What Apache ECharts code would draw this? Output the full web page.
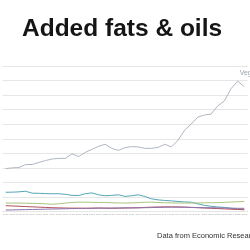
<!DOCTYPE html>
<html>
<head>
<meta charset="utf-8">
<script src="https://cdn.jsdelivr.net/npm/echarts@6/dist/echarts.min.js"></script>
<style>
  html, body { margin: 0; padding: 0; background: #fff; }
  #chart { width: 250px; height: 250px; }
</style>
</head>
<body>
<div id="chart"></div>
<script>
  // years along the bottom (labels are tiny in the source)
  var years = [];
  for (var y = 1970; y <= 2006; y++) years.push(String(y));

  var vegOils = [29.5, 30, 30.2, 32.3, 32.3, 33.7, 35, 36.1, 36.5, 36.5,
    39.6, 37.8, 40.6, 42.7, 44.8, 46.2, 43.4, 42, 43.9, 44.6,
    44.4, 43.4, 43.4, 44.1, 46.2, 44.4, 49, 55.9, 60.1, 64.9,
    66.3, 67, 72.6, 76, 84.4, 89.6, 85.8];
  var teal = [13.2, 13.3, 13.5, 13.9, 12.6, 12.5, 12.3, 12.2, 12.2, 11.8,
    11.1, 11, 12.2, 12.8, 11.5, 10.8, 11.1, 11.5, 10.4, 10.8,
    11.5, 10.3, 8.7, 8, 7.6, 7.3, 6.9, 6.6, 6.4, 5.2,
    4.2, 3.6, 3.1, 2.8, 2.2, 1.7, 1.5];
  var green = [5.8, 5.8, 5.8, 5.7, 5.6, 5.5, 5.3, 5.0, 5.3, 5.8,
    6.2, 6.4, 6.4, 6.3, 6.2, 6.2, 6.0, 5.9, 5.8, 5.9,
    6.1, 6.4, 6.4, 6.2, 6.0, 5.9, 5.8, 5.8, 5.8, 5.9,
    6.0, 6.0, 6.1, 6.3, 6.5, 6.7, 6.9];
  var red = [4.0, 3.8, 3.6, 3.4, 3.2, 3.0, 2.8, 2.6, 2.5, 2.4,
    2.3, 2.3, 2.2, 2.3, 2.4, 2.3, 2.2, 2.3, 2.4, 2.5,
    2.6, 2.8, 3.0, 3.1, 3.2, 3.2, 3.1, 3.0, 2.8, 2.6,
    2.4, 2.2, 2.0, 1.8, 1.6, 1.4, 1.2];
  var purple = [1.0, 1.1, 1.2, 1.3, 1.4, 1.5, 1.6, 1.7, 1.8, 1.9,
    2.0, 2.1, 2.2, 2.2, 2.3, 2.3, 2.4, 2.4, 2.5, 2.5,
    2.5, 2.6, 2.7, 2.8, 2.9, 3.0, 3.0, 2.9, 2.8, 2.7,
    2.6, 2.6, 2.5, 2.4, 2.3, 2.2, 2.2];
  var peakIdx = 35;

  var chart = echarts.init(document.getElementById('chart'), null, { renderer: 'canvas' });

  function lineSeries(name, data, color) {
    return {
      name: name,
      type: 'line',
      data: data,
      showSymbol: false,
      symbol: 'none',
      lineStyle: { color: color, width: 1 },
      animation: false
    };
  }

  var vegSeries = lineSeries('Vegetable oils', vegOils, '#b0b6c2');
  // name tag sitting just above the peak
  vegSeries.markPoint = {
    symbol: 'circle',
    symbolSize: 0,
    animation: false,
    data: [{ coord: [years[peakIdx], vegOils[peakIdx]] }],
    label: {
      show: true,
      position: [2, -12],
      align: 'left',
      formatter: 'Vegetable oils',
      color: '#9ba1ab',
      fontSize: 7,
      fontFamily: 'Liberation Sans'
    }
  };

  var option = {
    backgroundColor: '#fff',
    title: {
      text: 'Added fats & oils',
      left: 17,
      top: 12,
      textStyle: {
        fontFamily: 'Liberation Sans',
        fontWeight: 'bold',
        fontSize: 24.5,
        color: '#151515'
      }
    },
    grid: { left: 0, right: 0, top: 66, bottom: 38.5, containLabel: false },
    xAxis: {
      type: 'category',
      data: years,
      boundaryGap: true,
      axisLine: { show: true, lineStyle: { color: '#e6e6e6' } },
      axisTick: { show: false },
      axisLabel: { interval: 0, fontSize: 2.5, margin: 1, color: '#9a9a9a' }
    },
    yAxis: {
      type: 'value',
      min: 0,
      max: 100,
      interval: 10,
      axisLabel: { show: false },
      axisLine: { show: false },
      axisTick: { show: false },
      splitLine: { lineStyle: { color: '#e6e6e6', width: 1 } }
    },
    series: [
      vegSeries,
      lineSeries('Teal', teal, '#55a6b6'),
      lineSeries('Green', green, '#a9c47f'),
      lineSeries('Red', red, '#b0505a'),
      lineSeries('Purple', purple, '#8f73ad')
    ],
    graphic: [{
      type: 'text',
      left: 157,
      top: 232,
      style: {
        text: 'Data from Economic Research Service, USDA',
        fontSize: 7.5,
        fontFamily: 'Liberation Sans',
        fill: '#333'
      }
    }]
  };

  chart.setOption(option);
</script>
</body>
</html>
